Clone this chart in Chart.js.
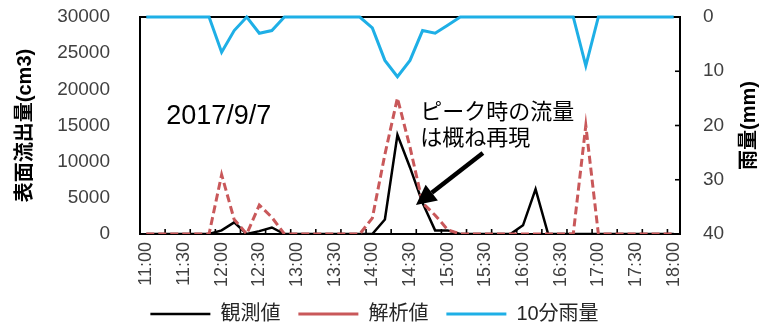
<!DOCTYPE html>
<html><head><meta charset="utf-8">
<script src="https://cdn.jsdelivr.net/npm/chart.js@4.4.1/dist/chart.umd.min.js"></script>
<style>html,body{margin:0;padding:0;background:#fff}#wrap{width:765px;height:334px}</style>
</head><body><div id="wrap"><canvas id="c" width="765" height="334"></canvas></div>
<script>
// ---- data ----
const timeLabels = ["11:00","11:10","11:20","11:30","11:40","11:50","12:00","12:10","12:20","12:30","12:40","12:50",
  "13:00","13:10","13:20","13:30","13:40","13:50","14:00","14:10","14:20","14:30","14:40","14:50",
  "15:00","15:10","15:20","15:30","15:40","15:50","16:00","16:10","16:20","16:30","16:40","16:50",
  "17:00","17:10","17:20","17:30","17:40","17:50","18:00"];
const observed = [0,0,0,0,0,0,500,1600,0,400,900,0,
  0,0,0,0,0,0,0,2000,13700,9200,4300,500,
  500,0,0,0,0,0,1200,6200,0,0,0,0,
  0,0,0,0,0,0,0];
const simulated = [0,0,0,0,0,0,8200,2000,0,4000,2300,0,
  0,0,0,0,0,0,2200,11000,18800,12000,4300,2600,
  600,0,0,0,0,0,0,0,0,0,0,15000,
  0,0,0,0,0,0,0];
const rain10min = [0,0,0,0,0,0,6.5,2.5,0,3,2.5,0,
  0,0,0,0,0,0,2,8,11,8,2.5,3,
  1.5,0,0,0,0,0,0,0,0,0,0,9,
  0,0,0,0,0,0,0];
const flowTicks = [0,5000,10000,15000,20000,25000,30000];
const rainTicks = [0,10,20,30,40];
const seriesNames = ["観測値","解析値","10分雨量"];
const leftTitle = "表面流出量(cm3)";
const rightTitle = "雨量(mm)";
const dateText = "2017/9/7";
const noteLines = ["ピーク時の流量","は概ね再現"];

const FONT = "'Liberation Sans','Noto Sans CJK JP',sans-serif";
const JP = "'Noto Sans CJK JP','Liberation Sans',sans-serif";

const decor = {
  id: 'decor',
  afterLayout(chart) {
    if (chart.legend) { chart.legend.left -= 8; chart.legend.right -= 8; }
  },
  beforeDatasetsDraw(chart) {
    const {ctx, chartArea: a} = chart;
    ctx.save();
    ctx.strokeStyle = '#000'; ctx.lineWidth = 2;
    ctx.beginPath(); ctx.moveTo(a.left, a.top); ctx.lineTo(a.right, a.top); ctx.stroke();
    const xs = chart.scales.x;
    const w = xs.getPixelForValue(1) - xs.getPixelForValue(0);
    const x0 = xs.getPixelForValue(0) - w / 2;
    ctx.lineWidth = 1.6;
    for (let k = 2; k < timeLabels.length; k += 2) {
      const x = x0 + k * w;
      ctx.beginPath(); ctx.moveTo(x, a.bottom); ctx.lineTo(x, a.bottom - 5); ctx.stroke();
    }
    const ys = chart.scales.y1;
    rainTicks.forEach(v => {
      const y = ys.getPixelForValue(v);
      ctx.beginPath(); ctx.moveTo(a.right, y); ctx.lineTo(a.right - 5, y); ctx.stroke();
    });
    ctx.restore();
  },
  afterDraw(chart) {
    const {ctx, chartArea: a} = chart;
    const px = f => a.left + f * (a.right - a.left);
    const py = f => a.top + f * (a.bottom - a.top);
    ctx.save();
    ctx.fillStyle = '#000';
    ctx.font = "27px " + FONT;
    ctx.textAlign = 'center'; ctx.textBaseline = 'middle';
    ctx.fillText(dateText, px(0.146), py(0.461));
    ctx.font = "22px " + JP;
    ctx.textAlign = 'left';
    ctx.fillText(noteLines[0], px(0.519), py(0.433));
    ctx.fillText(noteLines[1], px(0.519), py(0.553));
    const x1 = px(0.635), y1 = py(0.627), x2 = px(0.511), y2 = py(0.866);
    const ang = Math.atan2(y2 - y1, x2 - x1);
    const hl = 20, hw = 10;
    const bx = x2 - hl * Math.cos(ang), by = y2 - hl * Math.sin(ang);
    ctx.strokeStyle = '#000'; ctx.lineWidth = 4.5; ctx.lineCap = 'butt';
    ctx.beginPath(); ctx.moveTo(x1, y1); ctx.lineTo(bx, by); ctx.stroke();
    ctx.beginPath();
    ctx.moveTo(x2, y2);
    ctx.lineTo(bx + hw * Math.sin(ang), by - hw * Math.cos(ang));
    ctx.lineTo(bx - hw * Math.sin(ang), by + hw * Math.cos(ang));
    ctx.closePath(); ctx.fill();
    ctx.font = "bold 20px " + FONT;
    ctx.textAlign = 'center'; ctx.textBaseline = 'middle';
    ctx.translate(749, (a.top + a.bottom) / 2);
    ctx.rotate(-Math.PI / 2);
    ctx.fillText(rightTitle, 0, 0);
    ctx.restore();
  }
};

new Chart(document.getElementById('c'), {
  type: 'line',
  data: {
    labels: timeLabels,
    datasets: [
      { label: seriesNames[0], data: observed, yAxisID: 'y', borderColor: '#000000', backgroundColor: '#000000',
        borderWidth: 2.5, pointRadius: 0, tension: 0, order: 2 },
      { label: seriesNames[1], data: simulated, yAxisID: 'y', borderColor: '#C9585A', backgroundColor: '#C9585A',
        borderWidth: 3, borderDash: [8, 4], pointRadius: 0, tension: 0, order: 1 },
      { label: seriesNames[2], data: rain10min, yAxisID: 'y1', borderColor: '#1EAFE6', backgroundColor: '#1EAFE6',
        borderWidth: 3, pointRadius: 0, tension: 0, order: 0, clip: false }
    ]
  },
  options: {
    responsive: false,
    animation: false,
    devicePixelRatio: 1,
    layout: { padding: { top: 17, left: 0, right: 0, bottom: 0 } },
    plugins: {
      legend: {
        position: 'bottom',
        labels: {
          usePointStyle: true, pointStyle: 'line', pointStyleWidth: 60,
          padding: 18, color: '#262626',
          font: { size: 20, family: FONT },
          sort: (a, b) => a.datasetIndex - b.datasetIndex
        }
      },
      tooltip: { enabled: false }
    },
    scales: {
      x: {
        type: 'category', offset: true,
        grid: { display: true, drawOnChartArea: false, drawTicks: false },
        border: { color: '#000', width: 2 },
        ticks: {
          autoSkip: false, minRotation: 90, maxRotation: 90, padding: 8,
          color: '#404040', font: { size: 18, family: FONT },
          callback: function (v, i) { return i % 3 === 0 ? timeLabels[i] : ''; }
        },
        afterFit(s) { s.height = 52; }
      },
      y: {
        position: 'left', min: 0, max: 30000,
        afterBuildTicks(s) { s.ticks = flowTicks.map(v => ({ value: v })); },
        grid: { display: true, drawOnChartArea: false, drawTicks: false },
        border: { color: '#000', width: 2 },
        ticks: { padding: 30, color: '#404040', font: { size: 19, family: FONT }, callback: v => String(v) },
        title: { display: true, text: leftTitle, color: '#000', font: { size: 20, weight: 'bold', family: FONT }, padding: { top: 13, bottom: 0 } },
        afterFit(s) { s.width = 140; s.paddingTop = 0; s.paddingBottom = 0; }
      },
      y1: {
        position: 'right', min: 0, max: 40, reverse: true,
        afterBuildTicks(s) { s.ticks = rainTicks.map(v => ({ value: v })); },
        grid: { display: true, drawOnChartArea: false, drawTicks: false },
        border: { color: '#000', width: 2 },
        ticks: { padding: 23, color: '#404040', font: { size: 19, family: FONT }, callback: v => String(v) },
        afterFit(s) { s.width = 85; s.paddingTop = 0; s.paddingBottom = 0; }
      }
    }
  },
  plugins: [decor]
});
</script>
</body></html>
